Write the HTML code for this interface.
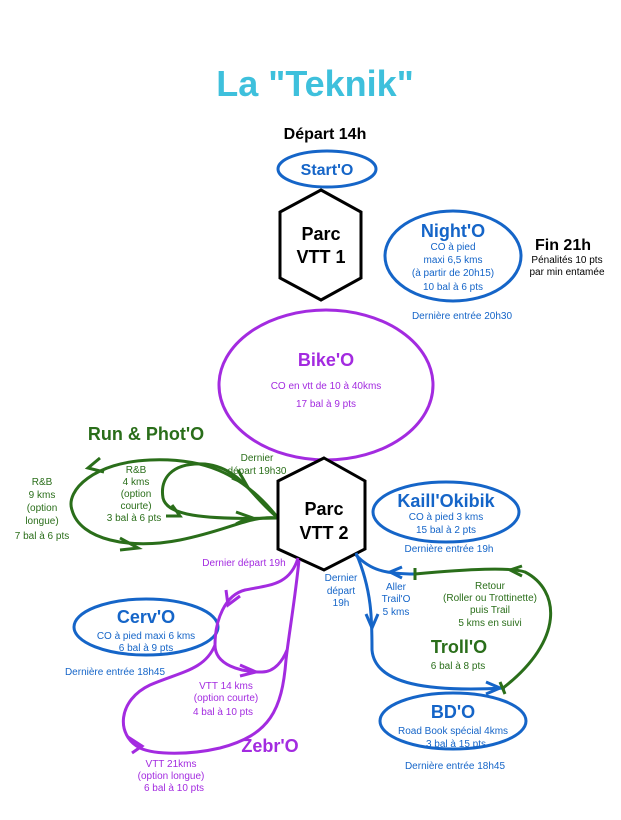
<!DOCTYPE html>
<html><head><meta charset="utf-8"><style>
html,body{margin:0;padding:0;background:#fff}
svg{display:block;font-family:"Liberation Sans",sans-serif}
</style></head><body>
<svg width="621" height="820" viewBox="0 0 621 820" xmlns="http://www.w3.org/2000/svg">
<text x="315" y="96" font-size="36" font-weight="bold" fill="#3ec0dc" text-anchor="middle">La "Teknik"</text>
<text x="325" y="139" font-size="16" font-weight="bold" text-anchor="middle">Départ 14h</text>
<ellipse cx="327" cy="169" rx="49" ry="18" fill="none" stroke="#1565c8" stroke-width="3"/>
<text x="327" y="175" font-size="16" font-weight="bold" fill="#1565c8" text-anchor="middle">Start'O</text>
<polygon points="321,190 361,212 361,278 321,300 280,278 280,212" fill="#fff" stroke="#000" stroke-width="3"/>
<text x="321" y="240" font-size="18" font-weight="bold" text-anchor="middle">Parc</text>
<text x="321" y="263" font-size="18" font-weight="bold" text-anchor="middle">VTT 1</text>
<ellipse cx="453" cy="256" rx="68" ry="45" fill="none" stroke="#1565c8" stroke-width="3"/>
<g fill="#1565c8" text-anchor="middle" font-size="10">
<text x="453" y="237" font-size="18" font-weight="bold">Night'O</text>
<text x="453" y="250">CO à pied</text><text x="453" y="263">maxi 6,5 kms</text><text x="453" y="276">(à partir de 20h15)</text><text x="453" y="290">10 bal à 6 pts</text>
<text x="462" y="319">Dernière entrée 20h30</text>
</g>
<text x="563" y="250" font-size="16" font-weight="bold" text-anchor="middle">Fin 21h</text>
<text x="567" y="263" font-size="10" text-anchor="middle">Pénalités 10 pts</text>
<text x="567" y="275" font-size="10" text-anchor="middle">par min entamée</text>
<ellipse cx="326" cy="385" rx="107" ry="75" fill="none" stroke="#a32be0" stroke-width="3"/>
<g fill="#a32be0" text-anchor="middle" font-size="10">
<text x="326" y="366" font-size="18" font-weight="bold">Bike'O</text>
<text x="326" y="389">CO en vtt de 10 à 40kms</text><text x="326" y="407">17 bal à 9 pts</text>
</g>
<g fill="none" stroke="#2a6e1a" stroke-width="3">
<path d="M278,518 C 240,470 200,458 150,460 C 95,462 65,490 72,510 C 80,540 130,550 180,540 C 230,530 250,515 278,518"/>
<path d="M278,518 C 250,495 240,468 205,464 C 170,462 160,480 163,498 C 167,515 200,520 278,518"/>
<path d="M100,458 L88,468 L104,472"/><path d="M120,538 L138,548 L120,550"/>
<path d="M232,478 L246,484 L238,470"/><path d="M236,512 L250,517 L236,524"/>
<path d="M172,505 L180,516 L166,516"/>
</g>
<g fill="#2a6e1a" text-anchor="middle" font-size="10">
<text x="146" y="440" font-size="18" font-weight="bold">Run &amp; Phot'O</text>
<text x="257" y="461">Dernier</text><text x="257" y="474">départ 19h30</text>
<text x="136" y="473">R&amp;B</text><text x="136" y="485">4 kms</text><text x="136" y="497">(option</text><text x="136" y="509">courte)</text><text x="134" y="521">3 bal à 6 pts</text>
<text x="42" y="485">R&amp;B</text><text x="42" y="498">9 kms</text><text x="42" y="511">(option</text><text x="42" y="524">longue)</text><text x="42" y="539">7 bal à 6 pts</text>
</g>
<polygon points="324,458 365,481 365,549 324,570 278,549 278,481" fill="#fff" stroke="#000" stroke-width="3"/>
<text x="324" y="515" font-size="18" font-weight="bold" text-anchor="middle">Parc</text>
<text x="324" y="539" font-size="18" font-weight="bold" text-anchor="middle">VTT 2</text>
<ellipse cx="446" cy="512" rx="73" ry="30" fill="none" stroke="#1565c8" stroke-width="3"/>
<g fill="#1565c8" text-anchor="middle" font-size="10">
<text x="446" y="507" font-size="18" font-weight="bold">Kaill'Okibik</text>
<text x="446" y="520">CO à pied 3 kms</text><text x="446" y="533">15 bal à 2 pts</text>
<text x="449" y="552">Dernière entrée 19h</text>
<text x="341" y="581">Dernier</text><text x="341" y="594">départ</text><text x="341" y="606">19h</text>
<text x="396" y="590">Aller</text><text x="396" y="602">Trail'O</text><text x="396" y="615">5 kms</text>
</g>
<g fill="none" stroke="#1565c8" stroke-width="3">
<path d="M356,553 C 372,590 372,620 372,650 C 375,685 430,692 505,688"/>
<path d="M356,555 C 370,570 385,574 415,574"/>
<path d="M366,614 L372,628 L378,614"/><path d="M486,682 L500,688 L486,694"/><path d="M402,567 L390,572 L402,578"/>
</g>
<g fill="none" stroke="#2a6e1a" stroke-width="3">
<path d="M415,574 C 470,569 510,567 525,572 C 560,590 565,640 503,688"/>
<path d="M415,568 L415,580"/><path d="M500,682 L505,694"/><path d="M522,566 L510,570 L522,576"/>
</g>
<g fill="#2a6e1a" text-anchor="middle" font-size="10">
<text x="490" y="589">Retour</text><text x="490" y="601">(Roller ou Trottinette)</text><text x="490" y="613">puis Trail</text><text x="490" y="626">5 kms en suivi</text>
<text x="459" y="653" font-size="18" font-weight="bold">Troll'O</text><text x="458" y="669">6 bal à 8 pts</text>
</g>
<ellipse cx="453" cy="721" rx="73" ry="28" fill="none" stroke="#1565c8" stroke-width="3"/>
<g fill="#1565c8" text-anchor="middle" font-size="10">
<text x="453" y="718" font-size="18" font-weight="bold">BD'O</text>
<text x="453" y="734">Road Book spécial 4kms</text><text x="456" y="747">3 bal à 15 pts</text>
<text x="455" y="769">Dernière entrée 18h45</text>
</g>
<ellipse cx="146" cy="627" rx="72" ry="28" fill="none" stroke="#1565c8" stroke-width="3"/>
<g fill="#1565c8" text-anchor="middle" font-size="10">
<text x="146" y="623" font-size="18" font-weight="bold">Cerv'O</text>
<text x="146" y="639">CO à pied maxi 6 kms</text><text x="146" y="651">6 bal à 9 pts</text>
<text x="115" y="675">Dernière entrée 18h45</text>
</g>
<g fill="none" stroke="#a32be0" stroke-width="3">
<path d="M298,558 C 290,585 270,585 245,590 C 225,595 215,620 215,645 C 215,665 240,672 262,672 C 275,672 283,660 287,650"/>
<path d="M299,560 C 295,600 288,640 286,660 C 282,710 270,735 220,748 C 190,755 155,755 140,748 C 115,735 118,700 150,685 C 180,672 205,670 215,645"/>
<path d="M226,590 L228,605 L240,596"/><path d="M240,665 L256,672 L240,676"/><path d="M128,737 L142,746 L132,753"/>
</g>
<g fill="#a32be0" text-anchor="middle" font-size="10">
<text x="244" y="566">Dernier départ 19h</text>
<text x="226" y="689">VTT 14 kms</text><text x="226" y="701">(option courte)</text><text x="223" y="715">4 bal à 10 pts</text>
<text x="270" y="752" font-size="18" font-weight="bold">Zebr'O</text>
<text x="171" y="767">VTT 21kms</text><text x="171" y="779">(option longue)</text><text x="174" y="791">6 bal à 10 pts</text>
</g>
</svg>
</body></html>
